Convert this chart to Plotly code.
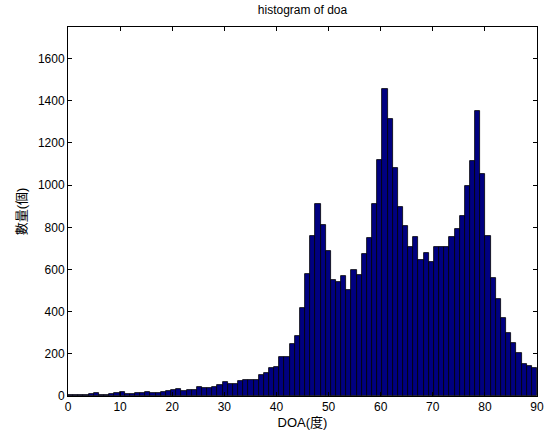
import numpy as np
import plotly.graph_objects as go

# histogram counts (91 bins spanning 0..90 degrees)
counts = [
    3, 5, 6, 5, 10, 12, 6, 7, 8, 12,
    17, 10, 11, 13, 15, 17, 16, 14, 19, 22,
    28, 31, 26, 30, 28, 45, 38, 39, 42, 52,
    66, 57, 57, 72, 74, 76, 78, 99, 110, 134,
    136, 183, 186, 245, 286, 419, 580, 760, 912, 812,
    689, 548, 540, 571, 504, 598, 576, 675, 750, 912,
    1121, 1455, 1314, 1082, 897, 807, 705, 755, 643, 677,
    634, 709, 705, 709, 756, 791, 852, 996, 1114, 1353,
    1051, 757, 560, 458, 371, 299, 253, 206, 151, 143, 135,
]
x_min, x_max = 0, 90
n_bins = len(counts)
bin_w = (x_max - x_min) / n_bins
centers = [x_min + (i + 0.5) * bin_w for i in range(n_bins)]

x_ticks = list(range(0, 91, 10))
y_ticks = list(range(0, 1601, 200))

FONT = "Liberation Sans, Arial, Noto Sans CJK TC, sans-serif"

fig = go.Figure()
fig.add_trace(go.Bar(
    x=centers, y=counts, width=[bin_w] * n_bins,
    marker=dict(color="#000080", line=dict(color="black", width=0.8)),
    showlegend=False,
))

fig.update_layout(
    width=545, height=439,
    margin=dict(l=68, r=8, t=27, b=43),
    paper_bgcolor="white", plot_bgcolor="white",
    bargap=0,
    font=dict(family=FONT, size=12, color="black"),
    title=dict(text="histogram of doa", x=0.5, xref="paper", xanchor="center",
               y=1 - 10 / 439, yref="container", yanchor="middle",
               font=dict(size=12, family=FONT, color="black")),
)
fig.update_xaxes(
    range=[x_min - 1e-4, x_max + 1e-4], tickvals=x_ticks, ticktext=[str(t) for t in x_ticks],
    ticks="inside", ticklen=4, tickcolor="black", showline=True, linecolor="black",
    linewidth=1, mirror="ticks", showgrid=False, zeroline=False,
    ticklabeloverflow="allow", automargin=False,
    tickfont=dict(size=12, family=FONT),
    title=dict(text="DOA(度)", standoff=4, font=dict(size=13, family=FONT)),
)
fig.update_yaxes(
    range=[0, 1750], tickvals=y_ticks, ticktext=[str(t) for t in y_ticks],
    ticks="inside", ticklen=4, tickcolor="black", showline=True, linecolor="black",
    linewidth=1, mirror="ticks", showgrid=False, zeroline=False,
    automargin=False,
    tickfont=dict(size=12, family=FONT),
    title=dict(text="數量(個)", standoff=8, font=dict(size=13, family=FONT)),
)

fig.write_html("out.html")
